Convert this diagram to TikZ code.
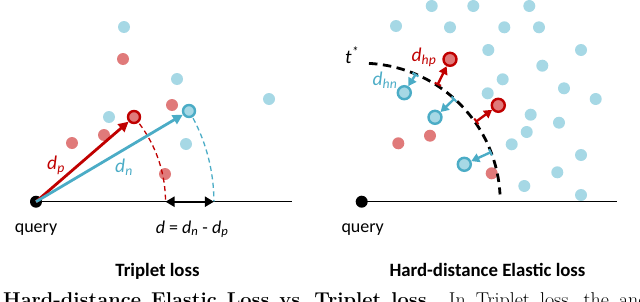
\documentclass[tikz,border=0pt]{standalone}
\usepackage{fontspec}
\newfontfamily\calfont{Carlito}
\usetikzlibrary{arrows.meta,calc}
\definecolor{lblue}{RGB}{166,216,229}
\definecolor{lred}{RGB}{224,122,122}
\definecolor{dred}{RGB}{192,0,0}
\definecolor{mblue}{RGB}{75,172,198}
\begin{document}
\begin{tikzpicture}[x=1pt,y=1pt,font=\calfont,
  bdot/.style={circle,fill=lblue,minimum size=12pt,inner sep=0pt},
  rdot/.style={circle,fill=lred,minimum size=12pt,inner sep=0pt},
  qdot/.style={circle,fill=black,minimum size=12pt,inner sep=0pt},
  rring/.style={circle,draw=dred,fill=lred,line width=2.4pt,minimum size=12pt,inner sep=0pt},
  bring/.style={circle,draw=mblue,fill=lblue,line width=2.4pt,minimum size=12pt,inner sep=0pt},
  baseline/.style={line width=1.2pt,black},
  lbl/.style={font=\calfont\fontsize{18}{20}\selectfont,anchor=base},
  ttl/.style={font=\calfont\bfseries\fontsize{18.8}{21}\selectfont,anchor=base},
  dlbl/.style={font=\calfont\itshape\fontsize{19.5}{21}\selectfont},
  bigarrow/.style={line width=2.8pt,-{Triangle[length=10pt,width=10pt]}},
  smallarrow/.style={line width=2.4pt,{Bar[width=7pt,line width=2pt]}-{Triangle[length=8pt,width=9pt]}},
  arcline/.style={dash pattern=on 5pt off 3.5pt,line width=1.3pt},
  blackarc/.style={line width=2.8pt,dash pattern=on 8.5pt off 5.5pt}]
\useasboundingbox (0,0) rectangle (640,301);
\clip (0,0) rectangle (640,301);

% ---------- left panel ----------
\node[bdot] (lb1) at (124,274) {};
\node[bdot] (lb2) at (177,222) {};
\node[bdot] (lb3) at (269,202) {};
\node[bdot] (lb4) at (109,184) {};
\node[bdot] (lb5) at (186,157) {};
\node[rdot] (lr1) at (123,242) {};
\node[rdot] (lr2) at (172,196) {};
\node[rdot] (lr3) at (72,158) {};
\node[rdot] (lr4) at (104,166) {};
\node[rdot] (lr5) at (165,127) {};

\node[qdot] (q1) at (36,99.3) {};
\coordinate (l1end) at (291.7,99.3);
\draw[baseline] (q1.center) -- (l1end);
\node[lbl] (q1t) at (36,69) {query};

\node[rring] (rp) at (134,184) {};
\node[bring] (rn) at (189,190) {};

\coordinate (pe) at ($(q1)+(129.5,0)$);
\coordinate (ne) at ($(q1)+(177.9,0)$);
\draw[arcline,dred] ($(q1)+(37:129.5)$) arc[start angle=37,end angle=0,radius=129.5];
\draw[arcline,mblue] ($(q1)+(28:177.9)$) arc[start angle=28,end angle=0,radius=177.9];

\draw[bigarrow,dred] (q1.center) -- (rp);
\draw[bigarrow,mblue] (q1.center) -- (rn);
\draw[line width=2.2pt,{Triangle[length=9pt,width=10pt]}-{Triangle[length=9pt,width=10pt]}] (pe) -- (ne);

\node[dlbl,dred] (dp) at (56,136) {d\textsubscript{\itshape p}};
\node[dlbl,mblue] (dn) at (124,134) {d\textsubscript{\itshape n}};
\node[lbl] (deq) at (192,68) {\textit{d} = \textit{d}\textsubscript{\itshape n} - \textit{d}\textsubscript{\itshape p}};
\node[ttl] (t1) at (157.5,25) {Triplet loss};

% ---------- right panel ----------
\foreach \p [count=\i] in {(431.7,295),(473.3,295),(529.3,295),(396,275),(450,273.7),(504.3,273.7),(539,273.7),(488.3,251),(581,251),(542.3,235.3),(502.7,221.7),(564,212.7),(487.7,207.7),(595.7,202),(530.7,186.3),(559,178.3),(526.7,169),(511.7,156.7),(581,146),(557.3,128.7),(524.3,115),(581,106)}
  \node[bdot] (rb\i) at \p {};
\node[rdot] (rr1) at (398.3,157.7) {};
\node[rdot] (rr2) at (430,165.3) {};
\node[rdot] (rr3) at (491.7,127.7) {};

\node[qdot] (q2) at (361.7,99.3) {};
\coordinate (l2end) at (616.7,99.3);
\draw[baseline] (q2.center) -- (l2end);
\node[lbl] (q2t) at (362.7,69) {query};

\draw[blackarc] ($(q2)+(87:138.5)$) arc[start angle=87,end angle=3,radius=138.5];

\node[rring,minimum size=13pt] (hp1) at (450,241.7) {};
\node[rring,minimum size=13pt] (hp2) at (498.3,195.7) {};
\node[bring,minimum size=13pt] (hn1) at (404.3,208.3) {};
\node[bring,minimum size=13pt] (hn2) at (435,183.7) {};
\node[bring,minimum size=13pt] (hn3) at (464.3,136.7) {};

\coordinate (a1) at ($(q2)+(57:139)$);
\coordinate (a2) at ($(q2)+(35:139)$);
\coordinate (a3) at ($(q2)+(67:139)$);
\coordinate (a4) at ($(q2)+(48:139)$);
\coordinate (a5) at ($(q2)+(21:139)$);
\draw[smallarrow,dred] (a1) -- (hp1);
\draw[smallarrow,dred] (a2) -- (hp2);
\draw[smallarrow,mblue] (a3) -- (hn1);
\draw[smallarrow,mblue] (a4) -- (hn2);
\draw[smallarrow,mblue] (a5) -- (hn3);

\node[dlbl] (ts) at (352,246) {t\textsuperscript{*}};
\node[dlbl,dred] (dhp) at (424,244) {d\textsubscript{\itshape hp}};
\node[dlbl,mblue] (dhn) at (385,221) {d\textsubscript{\itshape hn}};
\node[ttl] (t2) at (487.5,25) {Hard-distance Elastic loss};

% ---------- cropped caption ----------
\node[anchor=base west,inner sep=0pt,font=\fontsize{20}{24}\selectfont] (cap) at (3,-5.5)
  {\spaceskip=10pt\xspaceskip=16pt\textbf{Hard-distance Elastic Loss vs.\hspace{8pt}Triplet loss.} In Triplet loss, the anchor};
\end{tikzpicture}
\end{document}
